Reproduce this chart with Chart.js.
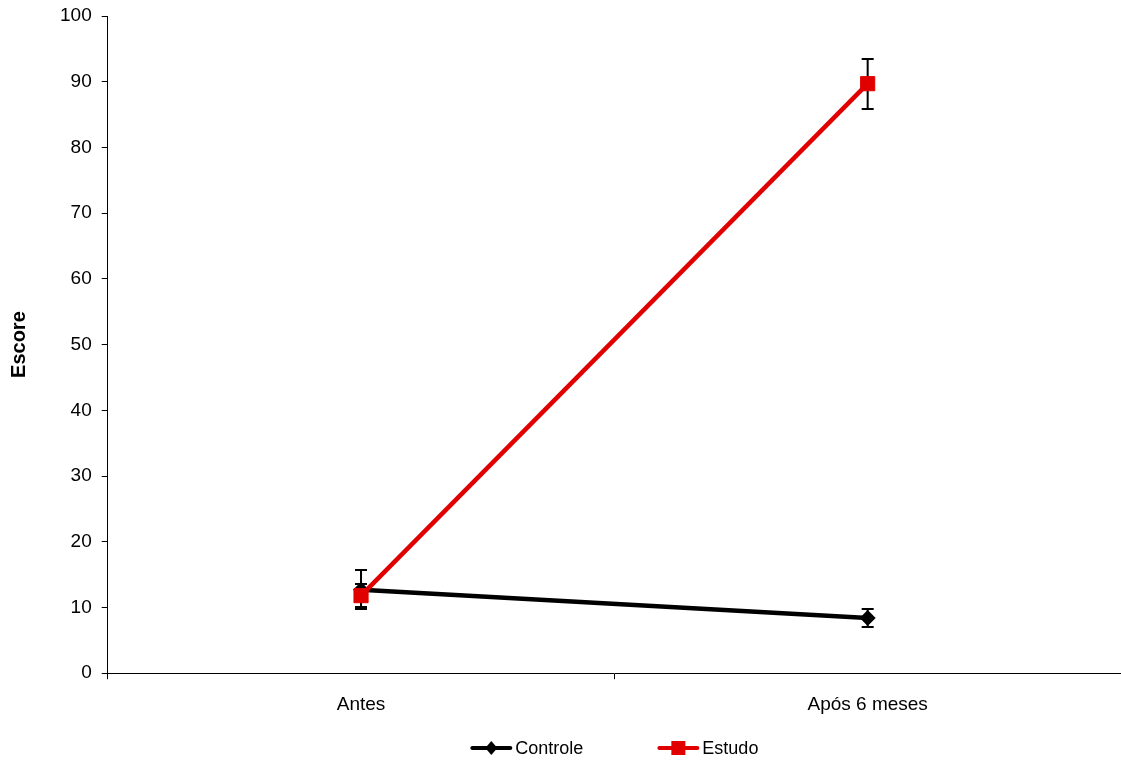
<!DOCTYPE html>
<html>
<head>
<meta charset="utf-8">
<script src="https://cdn.jsdelivr.net/npm/chart.js@4.4.0/dist/chart.umd.min.js"></script>
<style>
  html, body { margin: 0; padding: 0; background: #fff; }
  #wrap { width: 1121px; height: 763px; }
</style>
</head>
<body>
<div id="wrap"><canvas id="myChart"></canvas></div>
<script>
const categories = ['Antes', 'Após 6 meses'];
const controle = [12.7, 8.4];
const controleErr = [3.0, 1.4];
const estudo = [11.8, 89.7];
const estudoErr = [1.8, 3.8];
const yTicks = [0, 10, 20, 30, 40, 50, 60, 70, 80, 90, 100];

const RED = '#e00000';
const FONT = 'Liberation Sans, Arial, sans-serif';

// short line with the marker in the middle, used in the legend
function drawLegendIcon(g, x, y, color, marker) {
    g.save();
    g.strokeStyle = color;
    g.lineWidth = 4;
    g.lineCap = 'round';
    g.beginPath();
    g.moveTo(x + 2, y); g.lineTo(x + 40, y);
    g.stroke();
    g.fillStyle = color;
    if (marker === 'rect') {
        g.fillRect(x + 14, y - 7, 14, 14);
    } else {
        g.beginPath();
        g.moveTo(x + 21, y - 7); g.lineTo(x + 27, y); g.lineTo(x + 21, y + 7); g.lineTo(x + 15, y);
        g.closePath();
        g.fill();
    }
    g.restore();
}

const errorBars = {
    id: 'errorBars',
    beforeDatasetsDraw(chart) {
        const ctx = chart.ctx;
        const y = chart.scales.y;
        ctx.save();
        ctx.strokeStyle = '#000';
        ctx.lineWidth = 2;
        chart.data.datasets.forEach((ds, i) => {
            const meta = chart.getDatasetMeta(i);
            meta.data.forEach((pt, j) => {
                const v = ds.data[j], e = ds.err[j];
                const top = Math.round(y.getPixelForValue(v + e));
                const bot = Math.round(y.getPixelForValue(v - e));
                ctx.beginPath();
                ctx.moveTo(pt.x, top); ctx.lineTo(pt.x, bot);
                ctx.moveTo(pt.x - 6, top); ctx.lineTo(pt.x + 6, top);
                ctx.moveTo(pt.x - 6, bot); ctx.lineTo(pt.x + 6, bot);
                ctx.stroke();
            });
        });
        ctx.restore();
    }
};

const markers = ['diamond', 'rect'];
const bottomLegend = {
    id: 'bottomLegend',
    afterDraw(chart) {
        const ctx = chart.ctx;
        const area = chart.chartArea;
        ctx.save();
        ctx.font = '18px ' + FONT;
        ctx.fillStyle = '#000';
        ctx.textBaseline = 'middle';
        const items = chart.data.datasets.map((ds, i) => ({
            ds, i, w: 42 + 3 + ctx.measureText(ds.label).width
        }));
        const gap = 74;
        const total = items.reduce((s, it) => s + it.w, 0) + gap * (items.length - 1);
        let x = (area.left + area.right) / 2 - total / 2;
        const y = 748;
        items.forEach(it => {
            drawLegendIcon(ctx, x, y, it.ds.borderColor, markers[it.i]);
            ctx.fillText(it.ds.label, x + 45, y + 1);
            x += it.w + gap;
        });
        ctx.restore();
    }
};

const ctx = document.getElementById('myChart').getContext('2d');
const myChart = new Chart(ctx, {
    type: 'line',
    data: {
        labels: categories,
        datasets: [{
            label: 'Controle',
            data: controle,
            err: controleErr,
            borderColor: '#000',
            backgroundColor: '#000',
            borderWidth: 4.5,
            pointStyle: 'rectRot',
            pointRadius: 8,
            pointBorderWidth: 0,
            order: 2
        }, {
            label: 'Estudo',
            data: estudo,
            err: estudoErr,
            borderColor: RED,
            backgroundColor: RED,
            borderWidth: 4.5,
            pointStyle: 'rect',
            pointRadius: 10,
            pointBorderColor: RED,
            pointBorderWidth: 1,
            order: 1
        }]
    },
    options: {
        responsive: true,
        maintainAspectRatio: false,
        animation: false,
        layout: { autoPadding: false, padding: { top: 16, right: 0, bottom: 33, left: 7 } },
        scales: {
            x: {
                offset: true,
                afterFit(scale) { scale.paddingLeft = 0; scale.paddingRight = 0; },
                grid: { offset: true, drawOnChartArea: false, tickLength: 6, color: '#000', tickWidth: 1 },
                border: { color: '#000', width: 1 },
                ticks: { color: '#000', font: { family: FONT, size: 19 }, padding: 14, maxRotation: 0 }
            },
            y: {
                min: 0,
                max: 100,
                afterBuildTicks(axis) { axis.ticks = yTicks.map(v => ({ value: v })); },
                afterFit(scale) { scale.paddingTop = 0; scale.paddingBottom = 0; },
                grid: { drawOnChartArea: false, tickLength: 6, color: '#000' },
                border: { color: '#000', width: 1 },
                ticks: { color: '#000', font: { family: FONT, size: 19 }, padding: 10 },
                title: {
                    display: true,
                    text: 'Escore',
                    color: '#000',
                    font: { family: FONT, size: 20, weight: 'bold' },
                    padding: { top: 0, bottom: 19 }
                }
            }
        },
        plugins: {
            tooltip: { enabled: false },
            legend: { display: false }
        }
    },
    plugins: [errorBars, bottomLegend]
});
</script>
</body>
</html>
